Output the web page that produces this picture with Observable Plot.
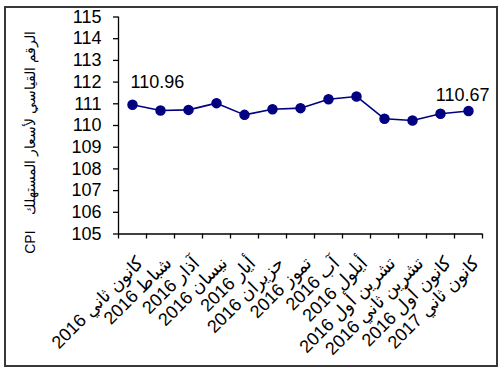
<!DOCTYPE html>
<html><head><meta charset="utf-8">
<script src="https://cdn.jsdelivr.net/npm/d3@7"></script>
<script src="https://cdn.jsdelivr.net/npm/@observablehq/plot@0.6"></script>
<style>
body{margin:0;background:#fff;}
#wrap{position:relative;width:504px;height:377px;overflow:hidden;}
#frame{position:absolute;left:4px;top:6px;width:490px;height:357px;border:2px solid #383838;pointer-events:none;}
</style></head><body><div id="wrap"><div id="chart"></div><div id="frame"></div></div>
<script>
const months = ["كانون ثاني 2016","شباط 2016","آذار 2016","نيسان 2016","أيار 2016","حزيران 2016","تموز 2016","آب 2016","أيلول 2016","تشرين أول 2016","تشرين ثاني 2016","كانون أول 2016","كانون ثاني 2017"];
const cpi = [110.96,110.69,110.72,111.03,110.49,110.75,110.80,111.21,111.34,110.31,110.23,110.54,110.67];
const yTicks = [105,106,107,108,109,110,111,112,113,114,115];
const yTitle = "CPI\u00A0\u00A0\u00A0 الرقم القياسي لأسعار المستهلك";

const points = months.map((m, i) => ({i, month: m, value: cpi[i]}));
const pos = d => d.i + 0.5;
const navy = "#000080";

const chart = Plot.plot({
  width: 504, height: 377,
  marginLeft: 118, marginRight: 22, marginTop: 16.5, marginBottom: 143.5,
  style: {fontFamily: "'Liberation Sans', Arial, sans-serif", background: "transparent", overflow: "visible", color: "#000"},
  x: {domain: [0, months.length]},
  y: {domain: [yTicks[0], yTicks[yTicks.length - 1]]},
  marks: [
    Plot.axisY({ticks: yTicks, tickSize: 5, tickPadding: 12, fontSize: 18, tickFormat: d => String(d), label: null, strokeWidth: 1.3}),
    Plot.axisX({ticks: d3.range(months.length + 1), tickSize: 5, tickFormat: () => "", label: null, strokeWidth: 1.3}),
    Plot.ruleX([0], {stroke: "#000", strokeWidth: 1.3}),
    Plot.ruleY([yTicks[0]], {stroke: "#000", strokeWidth: 1.3}),
    Plot.text(points, {x: pos, text: "month", frameAnchor: "bottom", rotate: -45, textAnchor: "end", lineAnchor: "top", dx: 3, dy: 21, fontSize: 18, fill: "#000"}),
    Plot.line(points, {x: pos, y: "value", stroke: navy, strokeWidth: 1.6}),
    Plot.dot(points, {x: pos, y: "value", r: 4.5, fill: navy, stroke: navy}),
    Plot.text([points[0]], {x: pos, y: "value", text: d => d.value.toFixed(2), textAnchor: "start", lineAnchor: "bottom", dx: -2, dy: -17, fontSize: 18, fill: "#000"}),
    Plot.text([points[points.length - 1]], {x: pos, y: "value", text: d => d.value.toFixed(2), textAnchor: "end", lineAnchor: "bottom", dx: 21, dy: -10, fontSize: 18, fill: "#000"}),
    Plot.text([yTitle], {frameAnchor: "left", rotate: -90, textAnchor: "middle", lineAnchor: "middle", dx: -88, dy: 17, fontSize: 14, fill: "#000"})
  ]
});
document.getElementById("chart").appendChild(chart);
</script>
</body></html>
